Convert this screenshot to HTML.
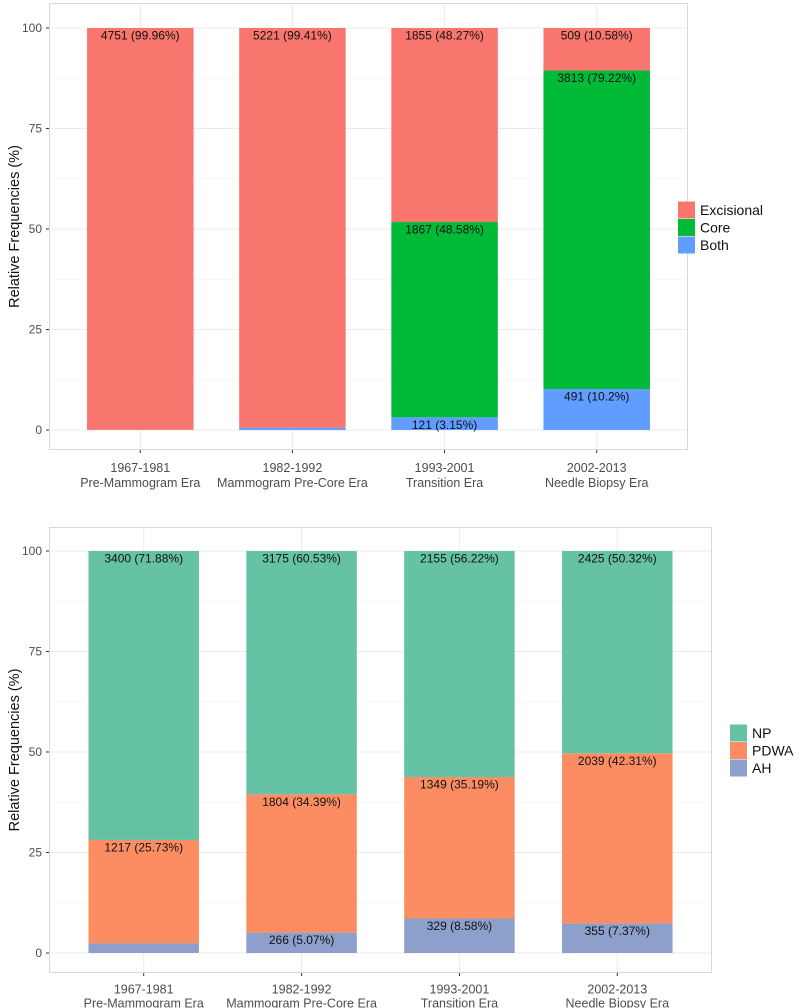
<!DOCTYPE html>
<html><head><meta charset="utf-8"><style>
body{margin:0;background:#fff;}
svg{display:block;font-family:"Liberation Sans",sans-serif;}
</style></head><body>
<svg id="chart" width="800" height="1008"></svg>
<script>
const categories1 = ["1967-1981|Pre-Mammogram Era","1982-1992|Mammogram Pre-Core Era","1993-2001|Transition Era","2002-2013|Needle Biopsy Era"];
const series1Names = ["Excisional","Core","Both"];
const excisionalPct = [99.96, 99.41, 48.27, 10.58];
const corePct = [0, 0, 48.58, 79.22];
const bothPct = [0.04, 0.59, 3.15, 10.2];
const excisionalN = [4751, 5221, 1855, 509];
const coreN = [null, null, 1867, 3813];
const bothN = [null, null, 121, 491];
const series2Names = ["NP","PDWA","AH"];
const npPct = [71.88, 60.53, 56.22, 50.32];
const pdwaPct = [25.73, 34.39, 35.19, 42.31];
const ahPct = [2.39, 5.07, 8.58, 7.37];
const npN = [3400, 3175, 2155, 2425];
const pdwaN = [1217, 1804, 1349, 2039];
const ahN = [null, 266, 329, 355];
const yTicks = [0, 25, 50, 75, 100];

const svg = document.getElementById('chart');
const NS = 'http://www.w3.org/2000/svg';
function mk(tag, attrs, parent){const e=document.createElementNS(NS,tag);for(const k in attrs)e.setAttribute(k,attrs[k]);(parent||svg).appendChild(e);return e;}

function panel(opt){
  const g = mk('g',{});
  
  
  const {left,top,right,bottom,y0,y100} = opt;
  const n = categories1.length;
  const step = (right-left)/(n+0.2);
  const xC = i => left + (0.6+i)*step;
  const yS = v => y0 + (y100-y0)*v/100;
  mk('rect',{x:left,y:top,width:right-left,height:bottom-top,fill:'#fff'},g);
  for(let i=0;i<yTicks.length-1;i++){
    const v=(yTicks[i]+yTicks[i+1])/2;
    mk('line',{x1:left,x2:right,y1:yS(v),y2:yS(v),stroke:'#f2f2f2','stroke-width':0.6},g);
  }
  yTicks.forEach(t=>{
    mk('line',{x1:left,x2:right,y1:yS(t),y2:yS(t),stroke:'#ebebeb','stroke-width':1},g);
    const tl=mk('text',{x:left-7,y:yS(t)+4,'text-anchor':'end','font-size':12,fill:'#4d4d4d'},g);
    tl.textContent=t;
    
    
    mk('line',{x1:left-3,x2:left,y1:yS(t),y2:yS(t),stroke:'#333','stroke-width':1},g);
  });
  for(let i=0;i<n;i++){
    mk('line',{x1:xC(i),x2:xC(i),y1:top,y2:bottom,stroke:'#ebebeb','stroke-width':1},g);
  }
  const bw = 0.7*step;
  for(let i=0;i<n;i++){
    let cum=0;
    const segs=[];
    for(let s=opt.pcts.length-1;s>=0;s--){
      const v=opt.pcts[s][i];
      const yTop=yS(cum+v), yBot=yS(cum);
      if(v>0){
        const r=mk('rect',{x:xC(i)-bw/2,y:yTop,width:bw,height:yBot-yTop,fill:opt.colors[s]},g);
        
        
      }
      segs.push([s,yTop,v]);
      cum+=v;
    }
    segs.forEach(([s,yTop,v])=>{
      const c=opt.counts[s][i];
      if(c!==null){
        const t=mk('text',{x:xC(i),y:yTop+11.5,'text-anchor':'middle','font-size':12,fill:'#111'},g);
        t.textContent=c+' ('+v+'%)';
        
        
      }
    });
  }
  mk('rect',{x:left+0.5,y:top+0.5,width:right-left-1,height:bottom-top-1,fill:'none',stroke:'#d9d9d9','stroke-width':1},g);
  for(let i=0;i<n;i++){
    mk('line',{x1:xC(i),x2:xC(i),y1:bottom,y2:bottom+3,stroke:'#333'},g);
    const parts=categories1[i].split('|');
    parts.forEach((p,j)=>{
      const t=mk('text',{x:xC(i),y:bottom+opt.xOff+j*opt.xGap,'text-anchor':'middle','font-size':12.5,fill:'#4d4d4d'},g);
      t.textContent=p;
      
      
    });
  }
  const yt=mk('text',{x:0,y:0,'text-anchor':'middle','font-size':14.5,fill:'#111',transform:`translate(19,${(top+bottom)/2}) rotate(-90)`},g);
  yt.textContent='Relative Frequencies (%)';
  
  
  opt.names.forEach((nm,k)=>{
    const ly=opt.legY+k*17.5;
    const r=mk('rect',{x:opt.legX,y:ly-8.5,width:17,height:17,fill:opt.colors[k]},g);
    
    
    const t=mk('text',{x:opt.legX+22,y:ly+5,'font-size':14,fill:'#111'},g);
    t.textContent=nm;
    
    
  });
}
panel({name:'biopsy-type-panel',left:49,top:3,right:688,bottom:450,y0:430,y100:28,xOff:22,xGap:15,
  pcts:[excisionalPct,corePct,bothPct],counts:[excisionalN,coreN,bothN],
  colors:['#F8766D','#00BA38','#619CFF'],names:series1Names,legX:678,legY:210});
panel({name:'pathology-panel',left:49,top:527,right:712,bottom:973,y0:953,y100:551,xOff:20.5,xGap:14,
  pcts:[npPct,pdwaPct,ahPct],counts:[npN,pdwaN,ahN],
  colors:['#66C2A5','#FC8D62','#8DA0CB'],names:series2Names,legX:730,legY:733});
</script>
</body></html>
